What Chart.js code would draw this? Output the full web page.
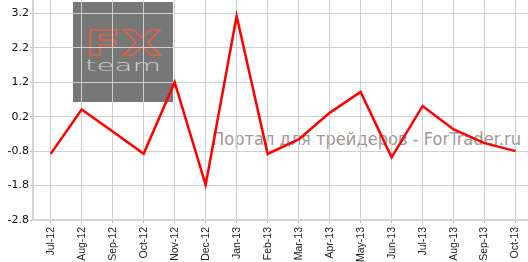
<!DOCTYPE html>
<html>
<head>
<meta charset="utf-8">
<script src="https://cdn.jsdelivr.net/npm/chart.js@4"></script>
<style>
  html, body { margin: 0; padding: 0; background: #fff; }
  #wrap { position: relative; width: 528px; height: 262px; overflow: hidden; }
  #logo { position: absolute; left: 73px; top: 2px; width: 100px; height: 100px; background: #777777; }
  #fx { position: absolute; left: 12px; top: 22px; font-family: "DejaVu Sans"; font-weight: bold; font-size: 33px; line-height: 40px;
        color: transparent; -webkit-text-stroke: 1.4px #d7614c; transform-origin: 0 0; transform: scaleX(1.55); letter-spacing: 1px; }
  #team { position: absolute; left: 12px; top: 54px; font-family: "DejaVu Sans"; font-weight: 200; font-size: 16px; line-height: 20px;
          color: #cfcfcf; transform-origin: 0 0; }
  #wm { position: absolute; left: 212px; top: 128px; font-family: "DejaVu Sans"; font-size: 17px; line-height: 22px; color: #a49696;
        white-space: nowrap; transform-origin: 0 0; }
  canvas { position: absolute; left: 0; top: 0; }
</style>
</head>
<body>
<div id="wrap">
  <div id="logo"><div id="fx">FX</div><div id="team">team</div></div>
  <div id="wm">Портал для трейдеров - ForTrader.ru</div>
  <canvas id="c" width="528" height="262"></canvas>
</div>
<script>
const categories = ['Jul-12','Aug-12','Sep-12','Oct-12','Nov-12','Dec-12','Jan-13','Feb-13','Mar-13','Apr-13','May-13','Jun-13','Jul-13','Aug-13','Sep-13','Oct-13'];
const values = [-0.88, 0.41, -0.23, -0.88, 1.20, -1.78, 3.12, -0.88, -0.46, 0.31, 0.92, -0.98, 0.51, -0.17, -0.57, -0.80];
const yTicks = [-2.8, -1.8, -0.8, 0.2, 1.2, 2.2, 3.2];

// fit watermark and logo text widths
function fitWidth(id, target) {
  const el = document.getElementById(id);
  const w = el.getBoundingClientRect().width;
  el.style.transform = 'scaleX(' + (target / w) + ')';
}
fitWidth('wm', 309);
fitWidth('team', 76);

new Chart(document.getElementById('c'), {
  type: 'line',
  data: {
    datasets: [{
      data: values.map((v, i) => ({ x: i, y: v })),
      borderColor: '#ff0000',
      borderWidth: 2.5,
      pointRadius: 0,
      tension: 0,
      fill: false
    }]
  },
  options: {
    responsive: false,
    animation: false,
    devicePixelRatio: 1,
    layout: { padding: 0 },
    plugins: { legend: { display: false }, tooltip: { enabled: false } },
    scales: {
      x: {
        type: 'linear',
        min: -0.57,
        max: 15.40,
        afterBuildTicks: s => { s.ticks = categories.map((_, i) => ({ value: i })); },
        afterFit: s => { s.height = 42; s.paddingLeft = 0; s.paddingRight = 0; },
        grid: { color: '#cfcfcf', lineWidth: 1, tickLength: 3, tickColor: '#bdbdbd', drawTicks: true },
        border: { color: '#d4d4d4', width: 2 },
        ticks: {
          autoSkip: false,
          minRotation: 90,
          maxRotation: 90,
          padding: 4,
          color: '#222',
          font: { family: 'Liberation Sans', size: 10.5 },
          callback: v => categories[v]
        }
      },
      y: {
        min: -2.8,
        max: 3.586,
        afterBuildTicks: s => { s.ticks = yTicks.map(v => ({ value: v })); },
        afterFit: s => { s.width = 33; s.paddingTop = 0; s.paddingBottom = 0; },
        grid: { color: '#cfcfcf', lineWidth: 1, tickLength: 3, tickColor: '#bdbdbd', drawTicks: true },
        border: { color: '#d4d4d4', width: 2 },
        ticks: {
          padding: 1,
          color: '#111',
          font: { family: 'DejaVu Sans', size: 11 },
          callback: v => v.toFixed(1)
        }
      }
    }
  }
});
</script>
</body>
</html>
